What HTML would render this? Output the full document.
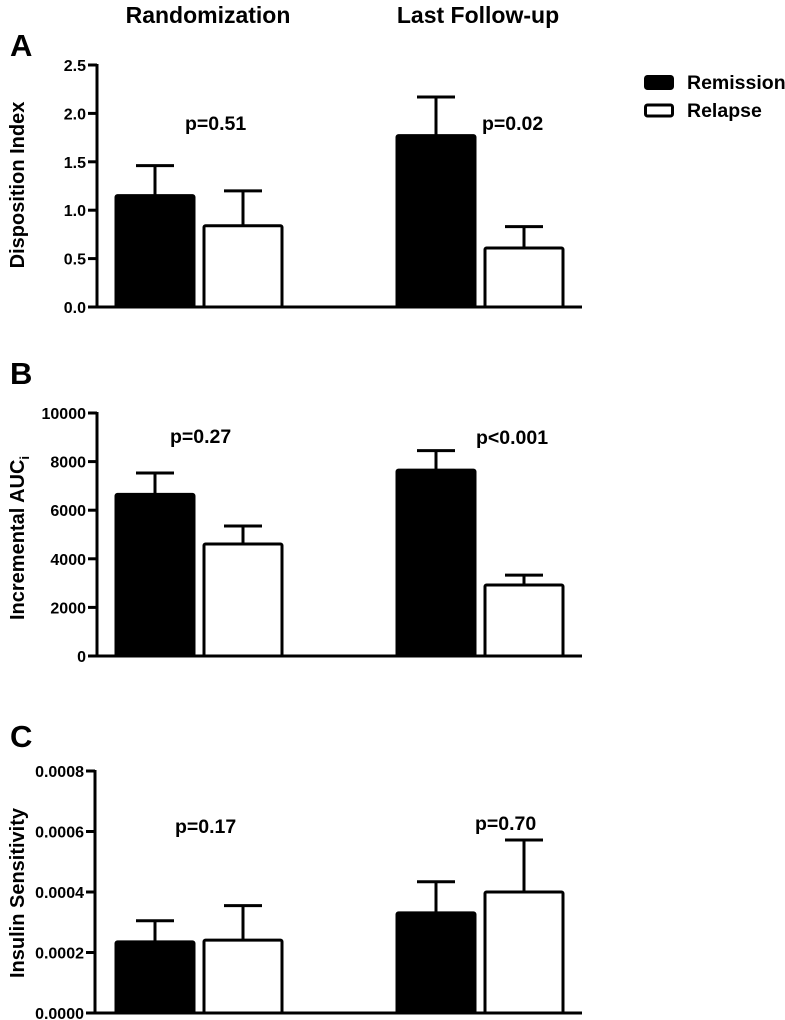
<!DOCTYPE html>
<html><head><meta charset="utf-8">
<style>
html,body{margin:0;padding:0;background:#fff;}
svg{display:block;font-family:"Liberation Sans",Arial,sans-serif;font-weight:bold;}
</style></head>
<body>
<svg id="chart" width="785" height="1020" viewBox="0 0 785 1020">
  <text x="208" y="23" font-size="23" text-anchor="middle">Randomization</text>
  <text x="478" y="23" font-size="23" text-anchor="middle">Last Follow-up</text>
  <g>
    <rect x="645.5" y="76.5" width="27" height="12" rx="2" fill="#000" stroke="#000" stroke-width="3"/>
    <text x="687" y="89" font-size="19.5">Remission</text>
    <rect x="645.5" y="105" width="27" height="11" rx="2" fill="#fff" stroke="#000" stroke-width="3"/>
    <text x="687" y="117" font-size="19.5">Relapse</text>
  </g>
</svg>
<script>
// Panel A: Disposition Index
const groupsA = ["Randomization", "Last Follow-up"];
const remissionA = [1.15, 1.77];
const remissionErrA = [0.31, 0.40];
const relapseA = [0.84, 0.61];
const relapseErrA = [0.36, 0.22];
const ticksA = [0, 0.5, 1.0, 1.5, 2.0, 2.5];
const tickLabelsA = ["0.0", "0.5", "1.0", "1.5", "2.0", "2.5"];
const pA = ["p=0.51", "p=0.02"];

// Panel B: Incremental AUCi
const remissionB = [6650, 7650];
const remissionErrB = [880, 800];
const relapseB = [4610, 2920];
const relapseErrB = [740, 410];
const ticksB = [0, 2000, 4000, 6000, 8000, 10000];
const tickLabelsB = ["0", "2000", "4000", "6000", "8000", "10000"];
const pB = ["p=0.27", "p<0.001"];

// Panel C: Insulin Sensitivity
const remissionC = [0.000235, 0.000331];
const remissionErrC = [0.000070, 0.000103];
const relapseC = [0.000241, 0.000400];
const relapseErrC = [0.000114, 0.000172];
const ticksC = [0, 0.0002, 0.0004, 0.0006, 0.0008];
const tickLabelsC = ["0.0000", "0.0002", "0.0004", "0.0006", "0.0008"];
const pC = ["p=0.17", "p=0.70"];

const NS = "http://www.w3.org/2000/svg";
const svg = document.getElementById("chart");
function mk(tag, attrs, parent) {
  const e = document.createElementNS(NS, tag);
  for (const k in attrs) e.setAttribute(k, attrs[k]);
  (parent || svg).appendChild(e);
  return e;
}

function panel(cfg) {
  const g = mk("g", {});
  
  
  const y = v => cfg.y0 - (v / cfg.max) * (cfg.y0 - cfg.yTop);
  const ax = cfg.axisX;
  const L = mk("text", {x: 10, y: cfg.letterY, "font-size": 31}, g);
  L.textContent = cfg.letter;
  
  
  const ya = mk("line", {x1: ax, y1: y(cfg.max) - 1, x2: ax, y2: cfg.y0 + 1.5, stroke: "#000", "stroke-width": 3}, g);
  
  
  const xa = mk("line", {x1: ax - 1.5, y1: cfg.y0, x2: 582, y2: cfg.y0, stroke: "#000", "stroke-width": 3}, g);
  
  
  cfg.ticks.forEach((t, i) => {
    const tk = mk("line", {x1: ax - 9, y1: y(t), x2: ax, y2: y(t), stroke: "#000", "stroke-width": 3}, g);
    
    
    const tl = mk("text", {x: ax - 11, y: y(t) + 6, "font-size": 16, "text-anchor": "end"}, g);
    tl.textContent = cfg.tickLabels[i];
    
    
  });
  const yl = mk("text", {x: 0, y: 0, "font-size": 20, "text-anchor": "middle", transform: `translate(24 ${cfg.labelY}) rotate(-90)`}, g);
  yl.innerHTML = cfg.label;
  
  
  const centers = [[155, 243], [436, 524]];
  const bw = 78;
  for (let gi = 0; gi < 2; gi++) {
    const series = [[cfg.rem, cfg.remErr, "#000", "remission"], [cfg.rel, cfg.relErr, "#fff", "relapse"]];
    series.forEach((s, si) => {
      const cx = centers[gi][si];
      const top = y(s[0][gi]);
      const et = y(s[0][gi] + s[1][gi]);
      const eb = mk("line", {x1: cx, y1: top, x2: cx, y2: et, stroke: "#000", "stroke-width": 3}, g);
      
      
      const cap = mk("line", {x1: cx - 19, y1: et, x2: cx + 19, y2: et, stroke: "#000", "stroke-width": 3}, g);
      
      
      const r = mk("rect", {x: cx - bw / 2, y: top, width: bw, height: cfg.y0 - top, fill: s[2], stroke: "#000", "stroke-width": 3, rx: 1.5}, g);
      
      
    });
    const pt = mk("text", {x: cfg.pX[gi], y: cfg.pY[gi] + 7, "font-size": 19.5}, g);
    pt.textContent = cfg.p[gi];
    
    
  }
}

panel({name: "panel-a-disposition-index", letter: "A", letterY: 56, y0: 307, yTop: 65, max: 2.5, axisX: 97,
  ticks: ticksA, tickLabels: tickLabelsA, label: "Disposition Index", labelY: 185,
  rem: remissionA, remErr: remissionErrA, rel: relapseA, relErr: relapseErrA, p: pA, pX: [185, 482], pY: [123, 123]});
panel({name: "panel-b-incremental-auc", letter: "B", letterY: 384, y0: 656, yTop: 413, max: 10000, axisX: 97,
  ticks: ticksB, tickLabels: tickLabelsB, label: "Incremental  AUC<tspan font-size='13' dy='5'>i</tspan>", labelY: 538,
  rem: remissionB, remErr: remissionErrB, rel: relapseB, relErr: relapseErrB, p: pB, pX: [170, 476], pY: [436, 437]});
panel({name: "panel-c-insulin-sensitivity", letter: "C", letterY: 747, y0: 1013, yTop: 771, max: 0.0008, axisX: 95,
  ticks: ticksC, tickLabels: tickLabelsC, label: "Insulin Sensitivity", labelY: 893,
  rem: remissionC, remErr: remissionErrC, rel: relapseC, relErr: relapseErrC, p: pC, pX: [175, 475], pY: [826, 823]});
</script>
</body></html>
